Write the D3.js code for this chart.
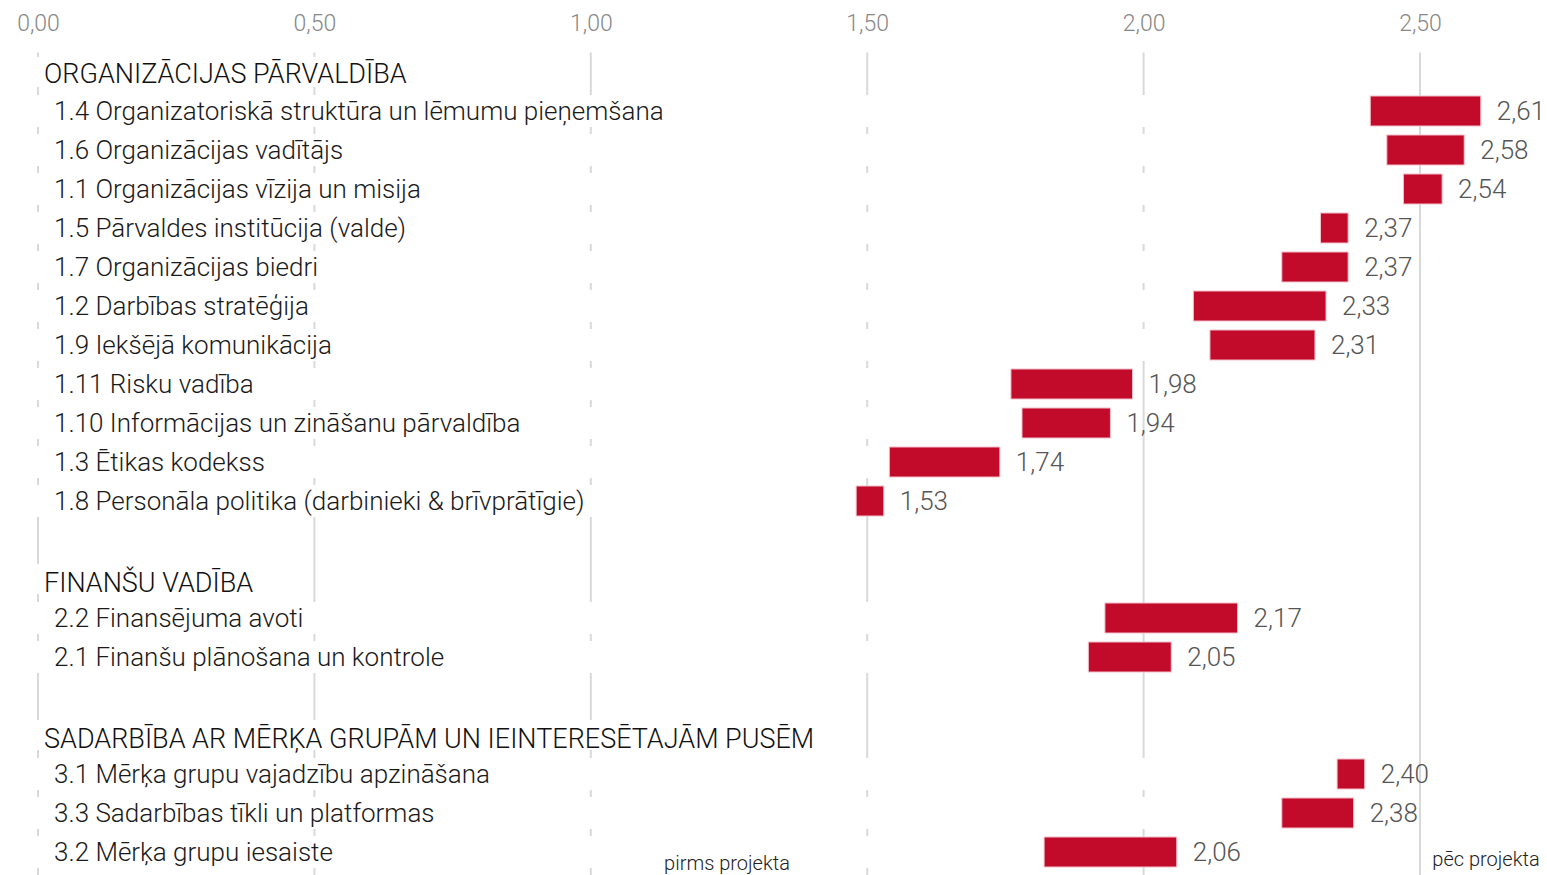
<!DOCTYPE html>
<html>
<head>
<meta charset="utf-8">
<script src="https://cdn.jsdelivr.net/npm/d3@7"></script>
<style>
  html, body { margin: 0; padding: 0; background: #fff; }
  svg { display: block; font-family: Roboto, "Noto Sans", sans-serif; }
</style>
</head>
<body>
<svg id="chart" width="1547" height="875"></svg>
<script>
// ---- data ----
const groupNames = [
  "ORGANIZĀCIJAS PĀRVALDĪBA",
  "FINANŠU VADĪBA",
  "SADARBĪBA AR MĒRĶA GRUPĀM UN IEINTERESĒTAJĀM PUSĒM"
];
const categories = [
  "1.4 Organizatoriskā struktūra un lēmumu pieņemšana",
  "1.6 Organizācijas vadītājs",
  "1.1 Organizācijas vīzija un misija",
  "1.5 Pārvaldes institūcija (valde)",
  "1.7 Organizācijas biedri",
  "1.2 Darbības stratēģija",
  "1.9 Iekšējā komunikācija",
  "1.11 Risku vadība",
  "1.10 Informācijas un zināšanu pārvaldība",
  "1.3 Ētikas kodekss",
  "1.8 Personāla politika (darbinieki & brīvprātīgie)",
  "2.2 Finansējuma avoti",
  "2.1 Finanšu plānošana un kontrole",
  "3.1 Mērķa grupu vajadzību apzināšana",
  "3.3 Sadarbības tīkli un platformas",
  "3.2 Mērķa grupu iesaiste"
];
const categoryGroup = [0,0,0,0,0,0,0,0,0,0,0, 1,1, 2,2,2];
const beforeValues = [2.41, 2.44, 2.47, 2.32, 2.25, 2.09, 2.12, 1.76, 1.78, 1.54, 1.48, 1.93, 1.90, 2.35, 2.25, 1.82];
const afterValues  = [2.61, 2.58, 2.54, 2.37, 2.37, 2.33, 2.31, 1.98, 1.94, 1.74, 1.53, 2.17, 2.05, 2.40, 2.38, 2.06];
const tickValues = [0, 0.5, 1, 1.5, 2, 2.5];
const legendLabels = ["pirms projekta", "pēc projekta"];

// ---- build rows (headers, items, spacers) ----
const rows = [];
groupNames.forEach((g, gi) => {
  if (gi > 0) rows.push({ key: "blank" + gi, type: "blank" });
  rows.push({ key: "head" + gi, type: "head", label: g });
  categories.forEach((c, i) => {
    if (categoryGroup[i] === gi) rows.push({ key: "item" + i, type: "item", label: c, before: beforeValues[i], after: afterValues[i] });
  });
});

const svg = d3.select("#chart");
const x = d3.scaleLinear().domain([0, 2.5]).range([38, 1420]);
const y = d3.scaleBand().domain(rows.map(r => r.key)).range([52.5, 871.5]).paddingInner(0.23).paddingOuter(0.115);
const fmt = v => d3.format(".2f")(v).replace(".", ",");

const RED = "#c20b2b";

// gridlines
svg.append("g").selectAll("line").data(tickValues).join("line")
  .attr("x1", d => x(d)).attr("x2", d => x(d))
  .attr("y1", y.range()[0]).attr("y2", y.range()[1] + 4)
  .attr("stroke", "#d9d9d9").attr("stroke-width", 2);

// top axis
const axis = svg.append("g").attr("transform", "translate(0,31)")
  .call(d3.axisTop(x).tickValues(tickValues).tickFormat(fmt).tickSize(0).tickPadding(0));
axis.select(".domain").remove();
axis.selectAll("text").attr("fill", "#888").style("font-size", "23px").style("font-weight", 300).style("font-family", "Roboto");

const items = rows.filter(r => r.type === "item");
const heads = rows.filter(r => r.type === "head");

// invisible (white) base segment: 0 -> before
svg.append("g").selectAll("rect").data(items).join("rect")
  .attr("x", x(0) - 2).attr("y", d => y(d.key) - 1)
  .attr("width", d => x(d.before) - x(0) + 2).attr("height", y.bandwidth() + 2)
  .attr("fill", "#fff");

// red segment: before -> after
svg.append("g").selectAll("rect").data(items).join("rect")
  .attr("x", d => x(d.before)).attr("y", d => y(d.key))
  .attr("width", d => x(d.after) - x(d.before)).attr("height", y.bandwidth())
  .attr("fill", RED).attr("stroke", "#f2c4cc").attr("stroke-width", 1);

// value labels
svg.append("g").selectAll("text").data(items).join("text")
  .attr("x", d => x(d.after) + 16).attr("y", d => y(d.key) + y.bandwidth() / 2 + 9)
  .attr("fill", "#555").style("font-size", "26px").style("font-weight", 300)
  .text(d => fmt(d.after));

// item labels
svg.append("g").selectAll("text").data(items).join("text")
  .attr("x", 54).attr("y", d => y(d.key) + y.bandwidth() / 2 + 9)
  .attr("fill", "#1a1a1a").style("font-size", "26px").style("font-weight", 300)
  .text(d => d.label);

// header labels with white background
const hg = svg.append("g").selectAll("g").data(heads).join("g");
hg.append("rect").attr("fill", "#fff");
hg.append("text")
  .attr("x", 44).attr("y", (d, i) => y(d.key) + y.bandwidth() / 2 + (i === 0 ? 11 : 13))
  .attr("fill", "#111").style("font-size", "27px").style("font-weight", 300)
  .text(d => d.label);
hg.each(function(d) {
  const t = d3.select(this).select("text").node().getBBox();
  d3.select(this).select("rect")
    .attr("x", x(0) - 3).attr("y", y(d.key))
    .attr("width", t.x + t.width + 3 - (x(0) - 3)).attr("height", y.bandwidth());
});

// legend labels
svg.append("g").selectAll("text").data(legendLabels).join("text")
  .attr("x", (d, i) => i === 0 ? 727 : 1486)
  .attr("y", (d, i) => i === 0 ? 870 : 866)
  .attr("text-anchor", "middle")
  .attr("fill", "#222").style("font-size", "20px").style("font-weight", 300)
  .text(d => d);
</script>
</body>
</html>
